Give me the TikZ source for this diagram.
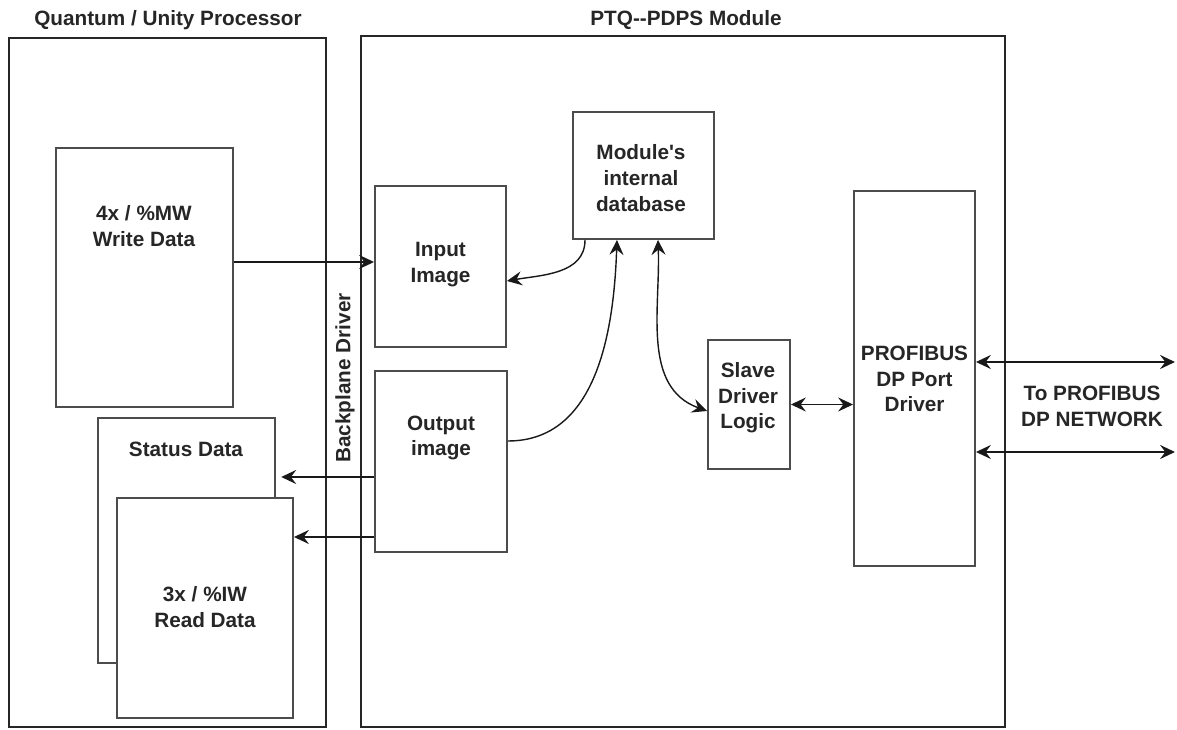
\documentclass[tikz,border=0pt]{standalone}
\usepackage{fontspec}
\setmainfont{Liberation Sans}
\usetikzlibrary{arrows.meta, positioning}

\begin{document}
\begin{tikzpicture}[
  every node/.style={font=\fontsize{11.8}{14.6}\selectfont\bfseries, text=black!85},
  frame/.style={rectangle, draw=black!85, line width=1.6pt, inner sep=0pt},
  box/.style 2 args={rectangle, draw=black!70, line width=1.1pt, fill=white,
                     inner sep=0pt, minimum width=#1, minimum height=#2},
  txt/.style={align=center, inner sep=1pt},
  arr/.style={>={Stealth[length=8.5pt, width=8pt, inset=3pt]}, ->, line width=0.8pt, black!90},
]

\useasboundingbox (0,0) rectangle (23.54,14.6);

% ── Cadres principaux ────────────────────────────────────────────────
\node[frame, minimum width=6.34cm, minimum height=13.78cm] (proc) at (3.35, 6.95) {};
\node[txt] (proc-lbl) at (3.36, 14.2) {Quantum / Unity Processor};

\node[frame, minimum width=12.88cm, minimum height=13.82cm] (mod) at (13.66, 6.97) {};
\node[txt] (mod-lbl) at (13.72, 14.2) {PTQ-{}-PDPS Module};

% Backplane (texte vertical entre les deux cadres)
\node[txt, rotate=90] (bp) at (6.90, 7.04) {Backplane Driver};

% ── Processeur ───────────────────────────────────────────────────────
\node[box={3.54cm}{5.18cm}] (wd) at (2.89, 9.05) {};
\node[txt] (wd-txt) at (2.88, 10.08) {4x / \%MW\\Write Data};

\node[box={3.54cm}{4.90cm}] (st) at (3.73, 3.79) {};
\node[txt] (st-txt) at (3.72, 5.62) {Status Data};

\node[box={3.52cm}{4.40cm}] (rd) at (4.10, 2.44) {};
\node[txt] (rd-txt) at (4.10, 2.46) {3x / \%IW\\Read Data};

% ── Module ───────────────────────────────────────────────────────────
\node[box={2.62cm}{3.22cm}] (ii) at (8.81, 9.27) {};
\node[txt] (ii-txt) at (8.81, 9.31) {Input\\Image};

\node[box={2.64cm}{3.62cm}] (oi) at (8.82, 5.37) {};
\node[txt] (oi-txt) at (8.82, 5.84) {Output\\image};

\node[box={2.82cm}{2.54cm}] (db) at (12.87, 11.09) {};
\node[txt] (db-txt) at (12.82, 11.04) {Module\textquotesingle s\\internal\\database};

\node[box={1.64cm}{2.58cm}] (sl) at (14.98, 6.51) {};
\node[txt] (sl-txt) at (14.96, 6.64) {Slave\\Driver\\Logic};

\node[box={2.42cm}{7.50cm}] (pb) at (18.29, 7.03) {};
\node[txt] (pb-txt) at (18.29, 7.02) {PROFIBUS\\DP Port\\Driver};

% ── Réseau ───────────────────────────────────────────────────────────
\node[txt] (net) at (21.84, 6.47) {To PROFIBUS\\DP NETWORK};
\coordinate (net-a) at (23.50, 7.36);
\coordinate (net-b) at (23.50, 5.56);

% ── Flèches backplane ────────────────────────────────────────────────
\draw[arr] ([yshift=0.09cm]wd.east |- ii.west) -- ([yshift=0.09cm]ii.west);
\draw[arr, shorten >=3pt] ([yshift=-0.31cm]oi.west) -- ([yshift=-0.31cm]oi.west -| st.east);
\draw[arr] ([yshift=-1.51cm]oi.west) -- ([yshift=-1.51cm]oi.west -| rd.east);

% ── Flèches base de données ──────────────────────────────────────────
\draw[arr] ([xshift=-1.17cm]db.south) to[out=-90, in=10] ([yshift=-0.29cm]ii.east);
\draw[arr] ([yshift=0.41cm]oi.east) to[out=0, in=-92] ([xshift=-0.53cm]db.south);
\draw[arr, <->] ([xshift=0.29cm]db.south) to[out=-88, in=160] ([yshift=-0.13cm]sl.west);

% ── Flèches pilote PROFIBUS ──────────────────────────────────────────
\draw[arr, <->] (sl.east) -- (sl.east -| pb.west);
\draw[arr, <->] (pb.east |- net-a) -- (net-a);
\draw[arr, <->] (pb.east |- net-b) -- (net-b);

\end{tikzpicture}
\end{document}
